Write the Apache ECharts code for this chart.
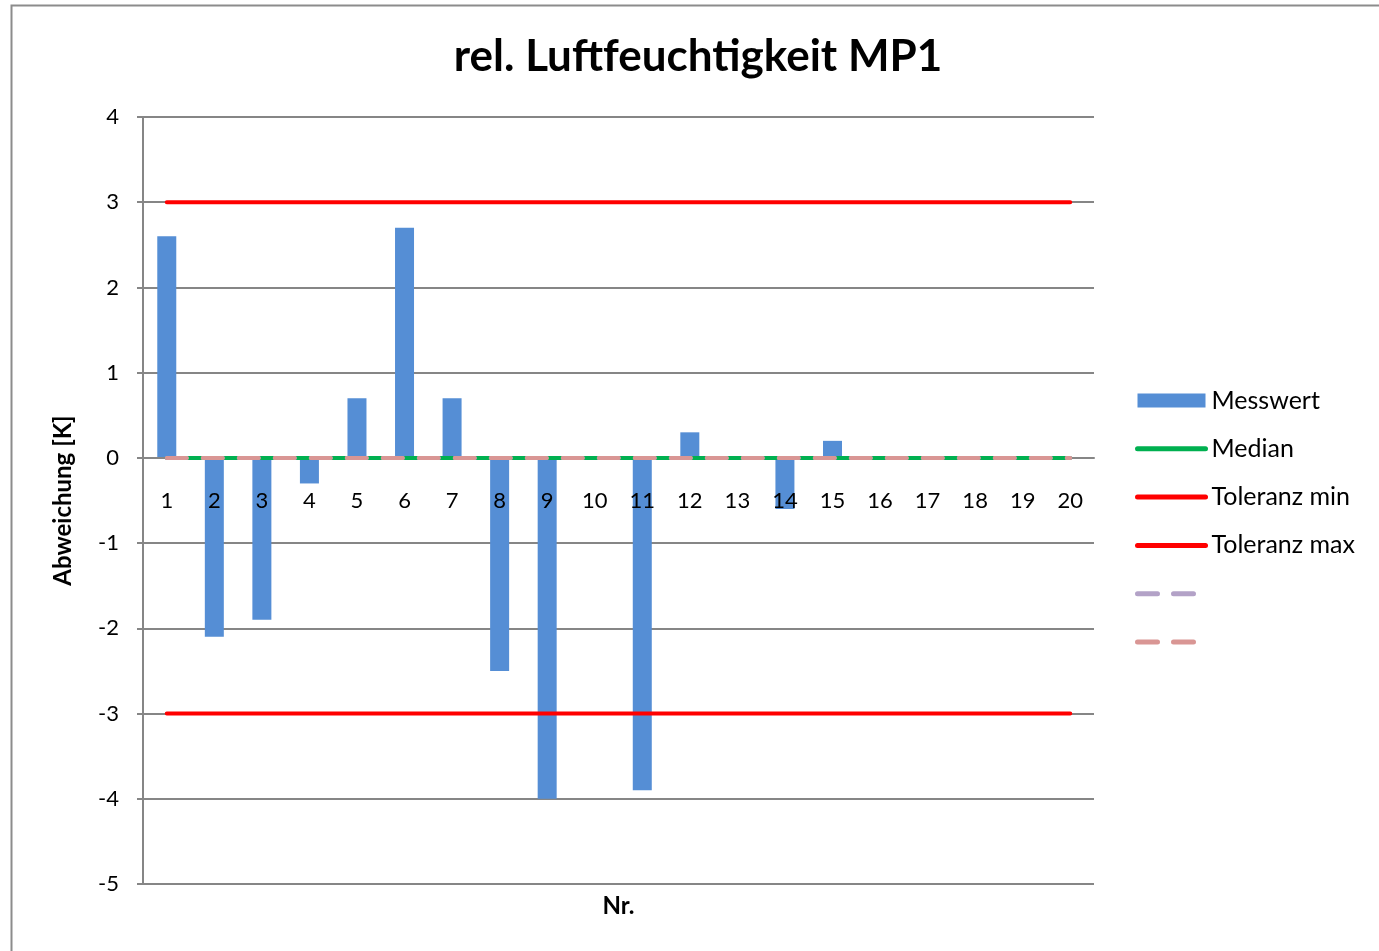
<!DOCTYPE html>
<html>
<head>
<meta charset="utf-8">
<script src="https://cdn.jsdelivr.net/npm/echarts@6/dist/echarts.min.js"></script>
<style>
  html, body { margin: 0; padding: 0; background: #fff; }
  #chart { width: 1379px; height: 951px; }
</style>
</head>
<body>
<div id="chart"></div>
<script>
// Messpunkte 1..20
const categories = ["1", "2", "3", "4", "5", "6", "7", "8", "9", "10",
  "11", "12", "13", "14", "15", "16", "17", "18", "19", "20"];
const messwert = [2.6, -2.1, -1.9, -0.3, 0.7, 2.7, 0.7, -2.5, -4.0, 0,
  -3.9, 0.3, 0, -0.6, 0.2, 0, 0, 0, 0, 0];
const median = [0, 0, 0, 0, 0, 0, 0, 0, 0, 0, 0, 0, 0, 0, 0, 0, 0, 0, 0, 0];
const tolMin = [-3, -3, -3, -3, -3, -3, -3, -3, -3, -3, -3, -3, -3, -3, -3, -3, -3, -3, -3, -3];
const tolMax = [3, 3, 3, 3, 3, 3, 3, 3, 3, 3, 3, 3, 3, 3, 3, 3, 3, 3, 3, 3];
const hilf1 = [0, 0, 0, 0, 0, 0, 0, 0, 0, 0, 0, 0, 0, 0, 0, 0, 0, 0, 0, 0];
const hilf2 = [0, 0, 0, 0, 0, 0, 0, 0, 0, 0, 0, 0, 0, 0, 0, 0, 0, 0, 0, 0];

const font = "Lato, 'Open Sans', sans-serif";
const dash = [20, 16];

var myChart = echarts.init(document.getElementById("chart"));

function lineSeries(name, data, color, dashed) {
  return {
    name: name,
    type: "line",
    data: data,
    symbol: "none",
    silent: true,
    z: 4,
    lineStyle: {
      color: color,
      width: 4,
      type: dashed ? dash : "solid",
      cap: "round",
    },
    itemStyle: { color: color },
  };
}

// Linien-Eintraege in der Legende ohne Punkt
function lineLegend(name) {
  return { name: name, itemStyle: { opacity: 0 } };
}

// Plotbereich: 143..1094 x 117..884, Nulllinie bei y = 458
const plotTop = 117, plotBottom = 884;
const yMin = -5, yMax = 4;
const zeroOffset = (plotBottom - plotTop) * (0 - yMin) / (yMax - yMin);

myChart.setOption({
  animation: false,
  textStyle: { fontFamily: font },
  title: {
    text: "rel. Luftfeuchtigkeit MP1",
    left: 693,
    top: 30,
    textAlign: "center",
    textStyle: { fontFamily: font, fontWeight: "bold", fontSize: 44, color: "#000" },
  },
  graphic: [
    {
      type: "rect",
      shape: { x: 11.5, y: 5.5, width: 1400, height: 1000 },
      style: { fill: "none", stroke: "#8c8c8c", lineWidth: 2 },
      silent: true,
    },
  ],
  legend: {
    orient: "vertical",
    left: 1135,
    top: 388,
    padding: 0,
    itemWidth: 68,
    itemHeight: 14,
    itemGap: 23.3,
    lineStyle: { width: 5, cap: "round" },
    textStyle: { fontFamily: font, fontSize: 25, color: "#000", padding: [0, 0, 0, 1] },
    data: [
      { name: "Messwert", icon: "rect" },
      lineLegend("Median"),
      lineLegend("Toleranz min"),
      lineLegend("Toleranz max"),
      lineLegend(" "),
      lineLegend("  "),
    ],
  },
  grid: { left: 143, right: 285, top: plotTop, bottom: 951 - plotBottom, outerBoundsMode: "none", containLabel: false },
  xAxis: {
    type: "category",
    data: categories,
    position: "bottom",
    offset: -zeroOffset,
    name: "Nr.",
    nameLocation: "middle",
    nameGap: 436,
    nameTextStyle: { fontFamily: font, fontWeight: "bold", fontSize: 24, color: "#000" },
    axisLine: { onZero: false, lineStyle: { color: "#868686", width: 2 } },
    axisTick: { show: false },
    axisLabel: { fontFamily: font, fontSize: 22, color: "#000", margin: 32, interval: 0 },
    z: 3,
  },
  yAxis: {
    type: "value",
    min: yMin,
    max: yMax,
    interval: 1,
    name: "Abweichung [K]",
    nameLocation: "middle",
    nameGap: 68,
    nameTextStyle: { fontFamily: font, fontWeight: "bold", fontSize: 24, color: "#000" },
    axisLine: { show: true, lineStyle: { color: "#868686", width: 2 } },
    axisTick: { show: true, length: 6, lineStyle: { color: "#868686", width: 2 } },
    axisLabel: { fontFamily: font, fontSize: 22, color: "#000", margin: 24 },
    splitLine: { lineStyle: { color: "#868686", width: 2 } },
  },
  series: [
    {
      name: "Messwert",
      type: "bar",
      data: messwert,
      barWidth: 19,
      z: 2,
      itemStyle: { color: "#558ED5" },
      silent: true,
    },
    lineSeries("Median", median, "#00B050", false),
    lineSeries("Toleranz min", tolMin, "#FF0000", false),
    lineSeries("Toleranz max", tolMax, "#FF0000", false),
    lineSeries(" ", hilf1, "#B3A2C7", true),
    lineSeries("  ", hilf2, "#D99694", true),
  ],
});
</script>
</body>
</html>
